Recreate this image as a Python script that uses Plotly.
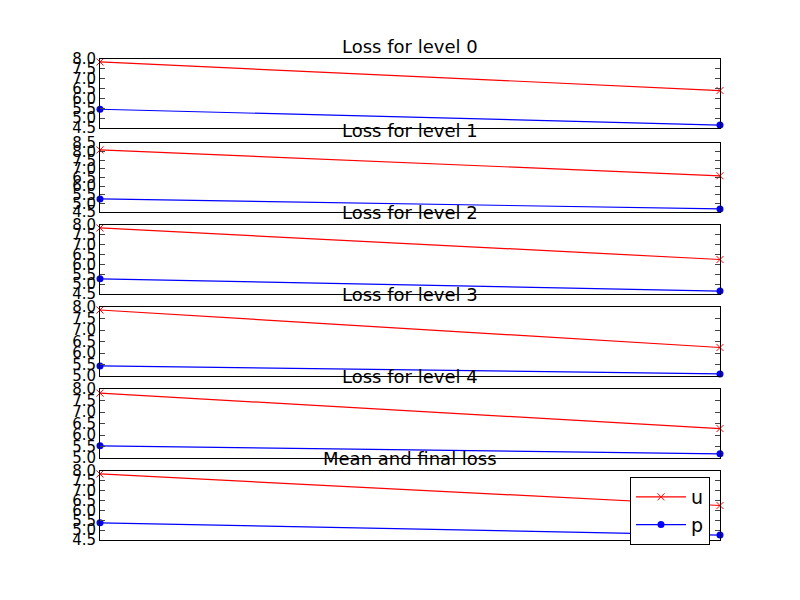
import plotly.graph_objects as go

titles = ["Loss for level 0", "Loss for level 1", "Loss for level 2",
          "Loss for level 3", "Loss for level 4", "Mean and final loss"]
steps = [0, 1]
u_loss = [[7.85, 6.4], [8.1, 6.6], [7.85, 6.25], [7.87, 6.24], [7.82, 6.28], [7.85, 6.25]]
p_loss = [[5.45, 4.65], [5.26, 4.68], [5.27, 4.65], [5.44, 5.09], [5.53, 5.18], [5.37, 4.75]]
y_ranges = [[4.5, 8.0], [4.5, 8.5], [4.5, 8.0], [5.0, 8.0], [5.0, 8.0], [4.5, 8.0]]

W, H = 800, 600
off = 8  # page body margin
tops = [59, 143, 225, 307, 389, 471]
ph = 69
fig = go.Figure()
for i in range(6):
    xa = "x" if i == 0 else "x%d" % (i + 1)
    ya = "y" if i == 0 else "y%d" % (i + 1)
    fig.add_trace(go.Scatter(x=steps, y=u_loss[i], mode="lines+markers", name="u",
                             line=dict(color="red", width=1.2),
                             marker=dict(symbol="x-thin", size=7, line=dict(color="red", width=1)),
                             xaxis=xa, yaxis=ya, showlegend=(i == 5), cliponaxis=False))
    fig.add_trace(go.Scatter(x=steps, y=p_loss[i], mode="lines+markers", name="p",
                             line=dict(color="blue", width=1.2),
                             marker=dict(symbol="circle", size=7, color="blue"),
                             xaxis=xa, yaxis=ya, showlegend=(i == 5), cliponaxis=False))
    top = 1 - (tops[i] - off) / H
    dom = [top - ph / H, top]
    lo, hi = y_ranges[i]
    tv = [lo + 0.5 * k for k in range(int(round((hi - lo) / 0.5)) + 1)]
    fig.layout["xaxis" if i == 0 else "xaxis%d" % (i + 1)] = dict(
        domain=[(100 - off) / W, (720 - off) / W], range=[0, 1], anchor=ya, showticklabels=False,
        showgrid=False, zeroline=False, showline=True, mirror=True, linecolor="black",
        automargin=False)
    fig.layout["yaxis" if i == 0 else "yaxis%d" % (i + 1)] = dict(
        domain=dom, range=[lo, hi], anchor=xa, tickvals=tv, ticktext=["%.1f" % v for v in tv],
        ticks="inside", ticklen=5, showgrid=False, zeroline=False, showline=True,
        mirror="ticks", linecolor="black", automargin=False, tickfont=dict(size=15))
    fig.add_annotation(text=titles[i], x=(410 - off) / W, xref="paper", y=dom[1], yref="paper",
                       yanchor="bottom", showarrow=False, font=dict(size=18, color="black"))

fig.update_layout(width=W, height=H, plot_bgcolor="white", paper_bgcolor="white",
                  margin=dict(l=0, r=0, t=0, b=0, autoexpand=False),
                  font=dict(family="DejaVu Sans", size=14, color="black"),
                  legend=dict(x=(710 - off) / W, xanchor="right", y=1 - (545 - off) / H,
                              yanchor="bottom", bordercolor="black", borderwidth=1,
                              bgcolor="white", font=dict(size=19), itemwidth=50))
fig.write_html("out.html")
